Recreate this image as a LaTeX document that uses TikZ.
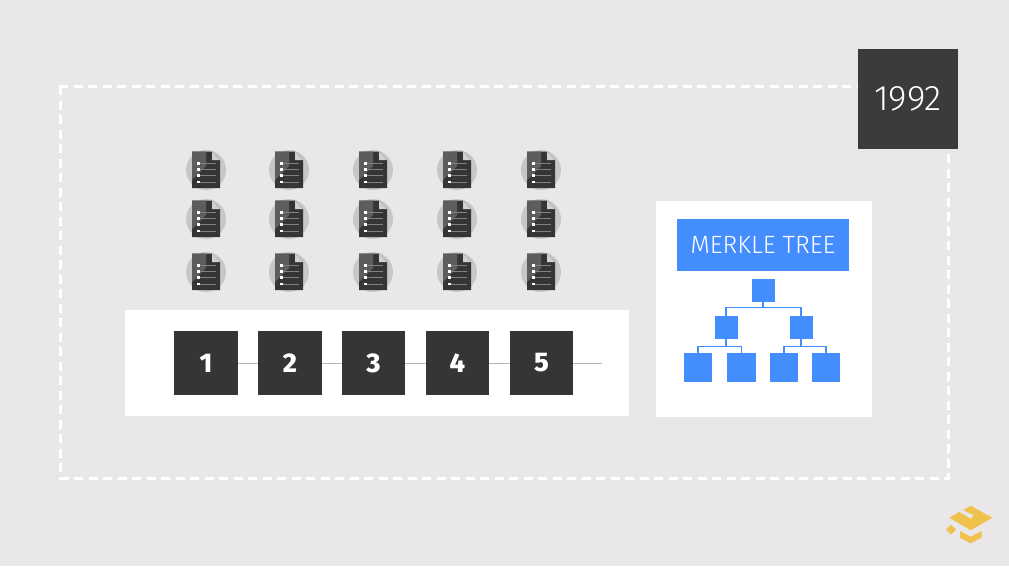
\documentclass[tikz,border=0pt]{standalone}
\usepackage{fontspec}
\setmainfont{Fira Sans}
\newfontfamily\lightf{Fira Sans Light}
\newfontfamily\heavyf{Fira Sans ExtraBold}
\definecolor{bg}{HTML}{E9E7EA}
\definecolor{dark}{HTML}{353535}
\definecolor{blue1}{HTML}{448DFF}
\definecolor{gold}{HTML}{EFC24D}
\tikzset{
  x=1pt,y=-1pt,
  panel/.style={fill=white,draw=none},
  numbox/.style={fill=dark,draw=none,minimum size=63.5pt,inner sep=0pt,text=white,font=\heavyf\fontsize{27}{27}\selectfont},
  link/.style={draw=black!30,line width=1pt},
  tsmall/.style={fill=blue1,draw=none,minimum size=23pt,inner sep=0pt},
  tbig/.style={fill=blue1,draw=none,minimum size=28.5pt,inner sep=0pt},
  tlink/.style={draw=blue1,line width=1.2pt},
}
\begin{document}
\begin{tikzpicture}
\useasboundingbox (0,0) rectangle (1009,566);
\fill[bg] (0,0) rectangle (1009,566);
% dashed frame
\draw[white,line width=3pt,dash pattern=on 9pt off 5.5pt] (60,86) rectangle (948,478);
% year
\node[fill=dark!97!white,minimum size=100pt,inner sep=0pt,text=white,font=\lightf\fontsize{35.5}{36}\selectfont] (year) at (908,99) {\raisebox{-1.5pt}{1992}};
% documents
\foreach \cx in {206,289,373,457,541}{
 \foreach \cy in {170,219,272}{
  \begin{scope}[shift={(\cx,\cy)}]
   \fill[black!22] (0,0) circle (20);
   \fill[dark] (-14,-18.5) -- (6,-18.5) -- (14,-10) -- (14,18) -- (-14,18) -- cycle;
   \fill[white!20!dark] (-14,-18.5) -- (0,-18.5) -- (0,-4) -- (-14,10) -- cycle;
   \fill[black!18] (6,-18.5) -- (14,-10) -- (6,-10) -- cycle;
   \foreach \ly in {-6.5,-0.5,5.5,12}{
     \draw[black!50,line width=.6pt] (-7,\ly) -- (10,\ly);
     \fill[white] (-9,\ly-1.2) rectangle (-6.5,\ly+1.2);
   }
  \end{scope}
 }
}
% chain panel
\fill[panel] (125,310) rectangle (629,416);
\coordinate (chainend) at (602,363);
\node[numbox] (n1) at (206,363) {1};
\node[numbox] (n2) at (290,363) {2};
\node[numbox] (n3) at (373.5,363) {3};
\node[numbox] (n4) at (457.5,363) {4};
\node[numbox] (n5) at (541.5,363) {5};
\draw[link] (n1) -- (n2);
\draw[link] (n2) -- (n3);
\draw[link] (n3) -- (n4);
\draw[link] (n4) -- (n5);
\draw[link] (n5) -- (chainend);
% merkle panel
\fill[panel] (656,201) rectangle (872,417);
\node[fill=blue1,minimum width=172pt,minimum height=52.5pt,inner sep=0pt,text=white,font=\fontsize{25}{25}\selectfont\lightf] (title) at (763,245) {MERKLE TREE};
\node[tsmall] (r) at (763,290.5) {};
\node[tsmall] (a) at (726,327.5) {};
\node[tsmall] (b) at (801,327.5) {};
\node[tbig] (c) at (698,367.5) {};
\node[tbig] (d) at (741.5,367.5) {};
\node[tbig] (e) at (784,367.5) {};
\node[tbig] (f) at (826,367.5) {};
\draw[tlink] (r.south) -- ++(0,5.5) -| (a.north);
\draw[tlink] (r.south) -- ++(0,5.5) -| (b.north);
\draw[tlink] (a.south) -- ++(0,7) -| (c.north);
\draw[tlink] (a.south) -- ++(0,7) -| (d.north);
\draw[tlink] (b.south) -- ++(0,7) -| (e.north);
\draw[tlink] (b.south) -- ++(0,7) -| (f.north);
% logo
\fill[gold] (949.3,517.7) -- (959.3,512) -- (970.7,518.7) -- (974,515.3) -- (963.3,510.3) -- (970.7,505.7) -- (992.3,517.7) -- (970.7,530.3) -- cycle;
\fill[gold] (960,531) -- (970.7,536.7) -- (981.7,531) -- (981.7,537.7) -- (970.7,543.3) -- (960,537.7) -- cycle;
\fill[gold] (946,529.7) -- (951,524.7) -- (956,529.7) -- (951,534.7) -- cycle;
\end{tikzpicture}
\end{document}
